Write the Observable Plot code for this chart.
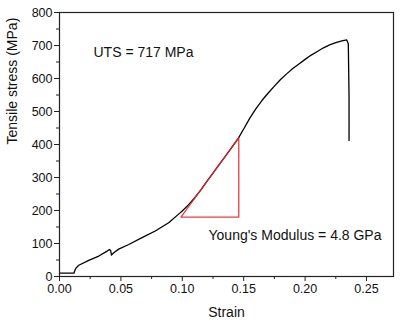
<!DOCTYPE html>
<html>
<head>
<meta charset="utf-8">
<script src="https://cdn.jsdelivr.net/npm/d3@7"></script>
<script src="https://cdn.jsdelivr.net/npm/@observablehq/plot@0.6"></script>
<style>
  html, body { margin: 0; padding: 0; background: #fff; }
  #chart svg { display: block; }
</style>
</head>
<body>
<div id="chart"></div>
<script>
// Stress-strain curve
const strain = [0, 0.0117, 0.0125, 0.0135, 0.0157, 0.0238, 0.032, 0.0388, 0.0407, 0.0417, 0.0423, 0.0442, 0.0482, 0.0564, 0.0672, 0.078, 0.0889, 0.097, 0.0997, 0.105, 0.11, 0.115, 0.12, 0.125, 0.13, 0.135, 0.14, 0.1458, 0.150, 0.155, 0.160, 0.165, 0.170, 0.175, 0.180, 0.185, 0.190, 0.195, 0.200, 0.205, 0.210, 0.215, 0.220, 0.225, 0.230, 0.2339, 0.2352, 0.2358, 0.2358];
const stress = [10, 10, 18, 26, 34, 49, 62, 77, 82, 78, 65, 72, 83, 97, 118, 138, 163, 189, 198, 217, 238, 262, 288, 313, 339, 364, 390, 420, 447, 480, 509, 534, 556, 577, 597, 614, 630, 644, 658, 671, 682, 693, 702, 709, 714, 717, 705, 544, 412];

// Young's modulus triangle (data units)
const triStrain = [0.0989, 0.146, 0.146, 0.0989];
const triStress = [180, 180, 420, 180];

// Axis ticks
const xTicks = [0, 0.05, 0.10, 0.15, 0.20, 0.25];
const xMinor = [0.025, 0.075, 0.125, 0.175, 0.225];
const yTicks = [0, 100, 200, 300, 400, 500, 600, 700, 800];
const yMinor = [50, 150, 250, 350, 450, 550, 650, 750];

const utsLabel = "UTS = 717 MPa";
const modulusLabel = "Young's Modulus = 4.8 GPa";
const xTitle = "Strain";
const yTitle = "Tensile stress (MPa)";

const curve = strain.map((s, i) => ({strain: s, stress: stress[i]}));
const tri = triStrain.map((s, i) => ({strain: s, stress: triStress[i]}));

const font = "'Liberation Sans', Arial, sans-serif";

const chart = Plot.plot({
  width: 403,
  height: 323,
  marginLeft: 59,
  marginRight: 10,
  marginTop: 12,
  marginBottom: 47,
  style: {fontFamily: font, color: "#111", background: "#fff"},
  x: {domain: [0, 0.272]},
  y: {domain: [0, 800]},
  marks: [
    Plot.axisX({ticks: xMinor, tickSize: 3, text: null, label: null, stroke: "#222"}),
    Plot.axisY({ticks: yMinor, tickSize: 3, text: null, label: null, stroke: "#222"}),
    Plot.axisX({ticks: xTicks, tickSize: 5, tickPadding: 3, tickFormat: d3.format(".2f"), label: null, fontSize: 12.5, stroke: "#222"}),
    Plot.axisY({ticks: yTicks, tickSize: 5, tickPadding: 2, tickFormat: d => String(d), label: null, fontSize: 12.5, stroke: "#222"}),
    Plot.line(curve, {x: "strain", y: "stress", stroke: "#000", strokeWidth: 1.3, strokeLinejoin: "round", curve: "linear"}),
    Plot.line(tri, {x: "strain", y: "stress", stroke: "#e8262b", strokeWidth: 1.3, strokeOpacity: 0.9}),
    Plot.frame({stroke: "#222", strokeWidth: 1.2}),
    Plot.text([utsLabel], {frameAnchor: "top-left", dx: 34, dy: 40, textAnchor: "start", lineAnchor: "middle", fontSize: 14, fill: "#111"}),
    Plot.text([modulusLabel], {frameAnchor: "top-left", dx: 149, dy: 223, textAnchor: "start", lineAnchor: "middle", fontSize: 14, fill: "#111"}),
    Plot.text([xTitle], {frameAnchor: "bottom", dy: 36, lineAnchor: "middle", fontSize: 14, fill: "#111"}),
    Plot.text([yTitle], {frameAnchor: "left", dx: -47, rotate: -90, lineAnchor: "middle", fontSize: 14, fill: "#111"})
  ]
});
document.getElementById("chart").appendChild(chart);
</script>
</body>
</html>
